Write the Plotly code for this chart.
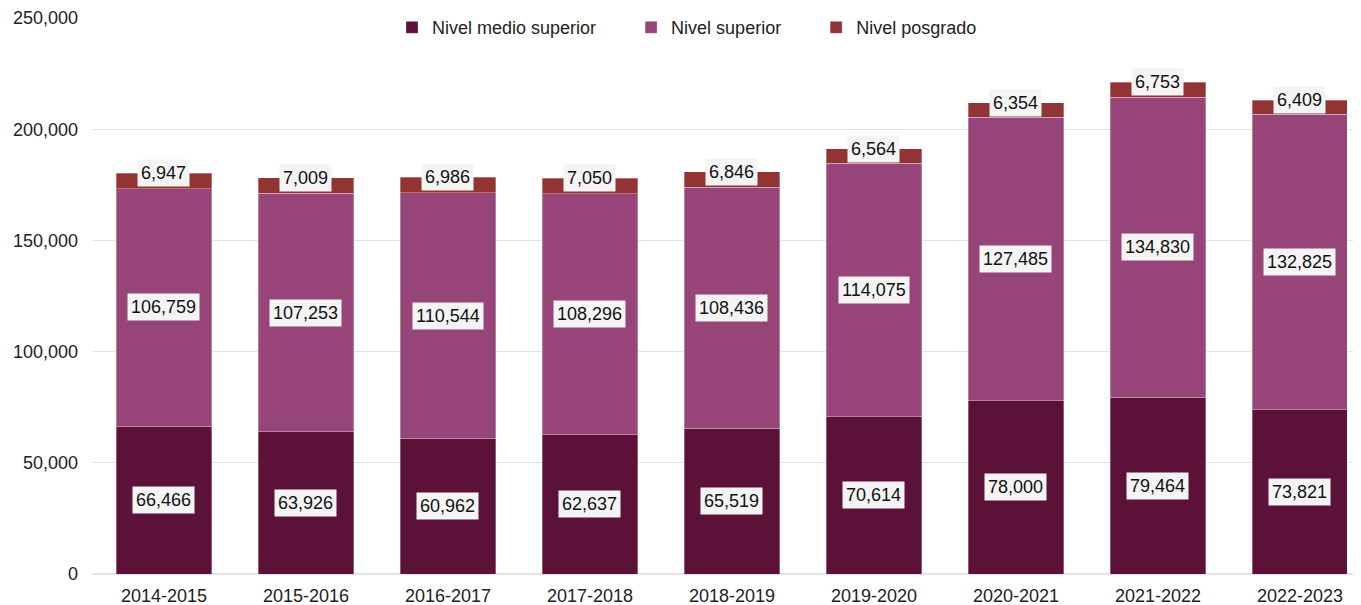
import plotly.graph_objects as go

years = ["2014-2015", "2015-2016", "2016-2017", "2017-2018", "2018-2019",
         "2019-2020", "2020-2021", "2021-2022", "2022-2023"]
medio_superior = [66466, 63926, 60962, 62637, 65519, 70614, 78000, 79464, 73821]
superior = [106759, 107253, 110544, 108296, 108436, 114075, 127485, 134830, 132825]
posgrado = [6947, 7009, 6986, 7050, 6846, 6564, 6354, 6753, 6409]

NB = "\u00a0"
series = [
    ("Nivel medio superior" + NB * 6, medio_superior, "#5C1238"),
    ("Nivel superior" + NB * 6, superior, "#974578"),
    ("Nivel posgrado", posgrado, "#933434"),
]

FONT = "Liberation Sans, Arial, sans-serif"

fig = go.Figure()
for name, vals, color in series:
    fig.add_trace(go.Bar(
        x=years, y=vals, name=name, width=0.67,
        marker=dict(color=color, line=dict(color="rgba(255,255,255,0.45)", width=0.7)),
    ))

annotations = []
label_font = dict(family=FONT, size=18, color="#111111")
for i, yr in enumerate(years):
    m, s, p = medio_superior[i], superior[i], posgrado[i]
    for val, ypos in [(m, m / 2), (s, m + s / 2), (p, m + s + p)]:
        annotations.append(dict(
            x=yr, y=ypos, text=f"{val:,}", showarrow=False,
            font=label_font, bgcolor="#F4F4F4", borderpad=3,
        ))

fig.update_layout(
    barmode="stack",
    width=1353, height=597,
    margin=dict(l=84, r=3, t=10, b=31, autoexpand=False),
    plot_bgcolor="white", paper_bgcolor="white",
    font=dict(family=FONT, size=18, color="#222222"),
    xaxis=dict(range=[-0.507, 8.409], showline=False, ticks="", showgrid=False,
               tickfont=dict(size=18), ticklabelstandoff=9, automargin=False),
    yaxis=dict(range=[0, 250000], dtick=50000, tickformat=",", gridcolor="#E3E3E3",
               gridwidth=1, zeroline=True, zerolinecolor="#E3E3E3", ticks="",
               tickfont=dict(size=18), ticklabelstandoff=13, automargin=False),
    legend=dict(orientation="h", x=0.47, xanchor="center", y=1.016, yanchor="top",
                bgcolor="rgba(0,0,0,0)", font=dict(size=18), traceorder="normal",
                itemwidth=30),
    annotations=annotations,
    showlegend=True,
)

fig.write_html("out.html")
